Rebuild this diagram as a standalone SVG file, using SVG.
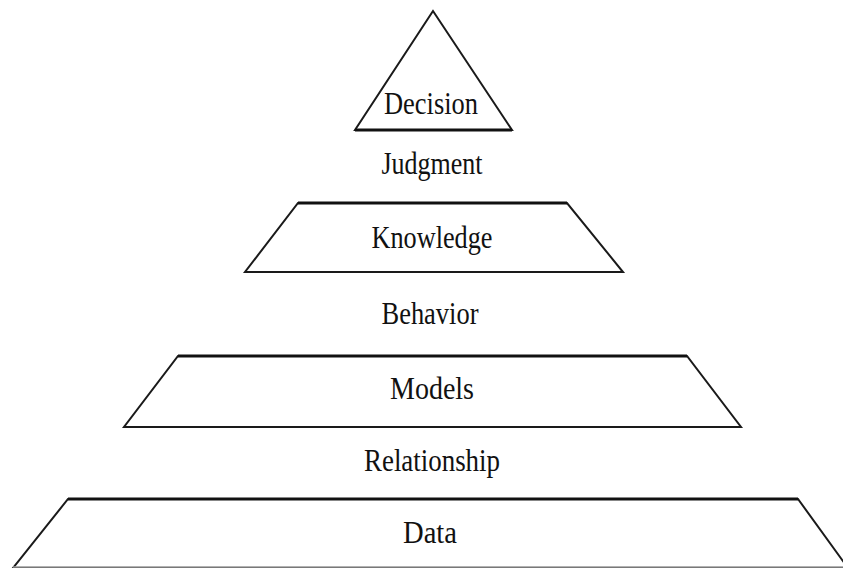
<svg xmlns="http://www.w3.org/2000/svg" width="843" height="568" viewBox="0 0 843 568">
<style>
.shape{fill:#fff;stroke:#1a1a1a;stroke-width:2;stroke-linejoin:miter}
.top{fill:none;stroke:#111;stroke-width:3}
.bot{fill:none;stroke:#999;stroke-width:1.5}
.lbl{font-family:"Liberation Serif","Times New Roman",serif;font-size:31px;fill:#111;text-anchor:middle}
</style>
<rect width="843" height="568" fill="#fff"/>
<g id="decision">
<polygon class="shape" points="433,11 355,130 512,130"/>
<line class="top" x1="355" y1="130" x2="512" y2="130"/>
<text class="lbl" x="431" y="114" textLength="94" lengthAdjust="spacingAndGlyphs">Decision</text>
</g>
<g id="judgment">
<text class="lbl" x="432" y="174" textLength="101" lengthAdjust="spacingAndGlyphs">Judgment</text>
</g>
<g id="knowledge">
<polygon class="shape" points="298,203 567,203 623,272 245,272"/>
<line class="top" x1="298" y1="203" x2="567" y2="203"/>
<text class="lbl" x="432" y="248" textLength="121" lengthAdjust="spacingAndGlyphs">Knowledge</text>
</g>
<g id="behavior">
<text class="lbl" x="430" y="324" textLength="97" lengthAdjust="spacingAndGlyphs">Behavior</text>
</g>
<g id="models">
<polygon class="shape" points="178,356 687,356 741,427 124,427"/>
<line class="top" x1="178" y1="356" x2="687" y2="356"/>
<text class="lbl" x="432" y="399" textLength="84" lengthAdjust="spacingAndGlyphs">Models</text>
</g>
<g id="relationship">
<text class="lbl" x="432" y="471" textLength="136" lengthAdjust="spacingAndGlyphs">Relationship</text>
</g>
<g id="data">
<polygon class="shape" points="68,499 798,499 848,568 13,568"/>
<line class="top" x1="68" y1="499" x2="798" y2="499"/>
<line class="bot" x1="13" y1="567" x2="843" y2="567"/>
<text class="lbl" x="430" y="543" textLength="54" lengthAdjust="spacingAndGlyphs">Data</text>
</g>
<g id="connectors"></g>
</svg>
